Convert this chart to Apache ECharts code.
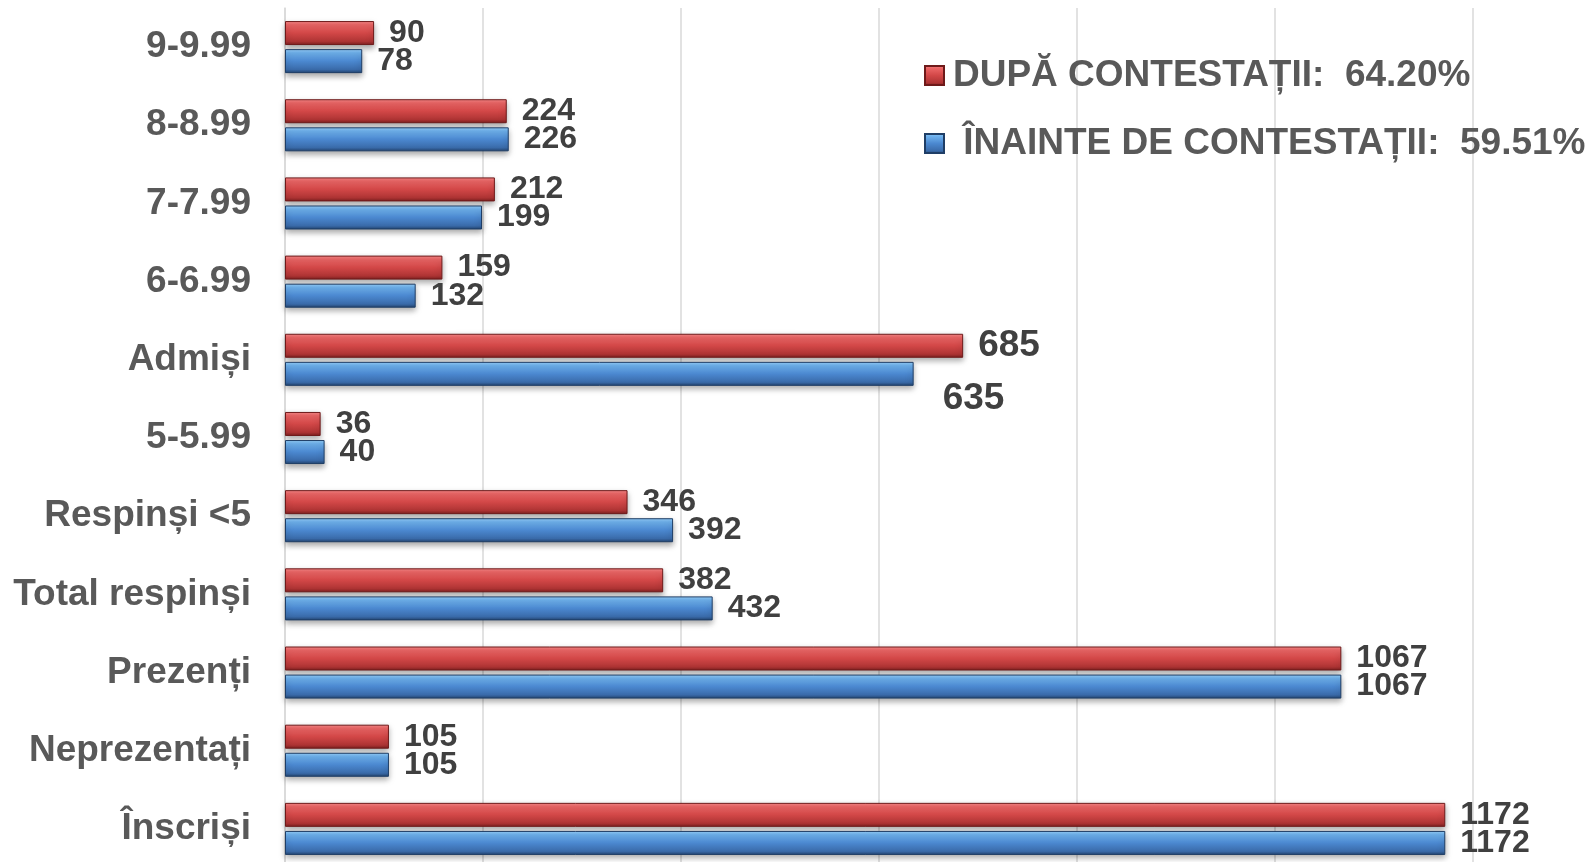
<!DOCTYPE html>
<html>
<head>
<meta charset="utf-8">
<script src="https://cdn.jsdelivr.net/npm/echarts@6/dist/echarts.min.js"></script>
<style>
    html, body { margin: 0; padding: 0; background: #fff; overflow: hidden; }
    #chart { width: 1591px; height: 900px; }
</style>
</head>
<body>
<div id="chart"></div>
<script>
// categorii, de jos in sus
const categories = ["Înscriși", "Neprezentați", "Prezenți", "Total respinși", "Respinși <5",
    "5-5.99", "Admiși", "6-6.99", "7-7.99", "8-8.99", "9-9.99"];
// valori dupa contestatii (rosu)
const dupaValues = [1172, 105, 1067, 382, 346, 36, 685, 159, 212, 224, 90];
// valori inainte de contestatii (albastru)
const inainteValues = [1172, 105, 1067, 432, 392, 40, 635, 132, 199, 226, 78];
// textele din legenda
const dupaName = "DUPĂ CONTESTAȚII:  64.20%";
const inainteName = " ÎNAINTE DE CONTESTAȚII:  59.51%";

const font = "'Liberation Sans', Arial, sans-serif";

function grad(stops) {
    return new echarts.graphic.LinearGradient(0, 0, 0, 1,
        stops.map(function (c) { return { offset: c[0], color: c[1] }; }));
}

const redColor = grad([[0, "#F88A8A"], [0.15, "#EC6666"], [0.5, "#D24747"], [0.85, "#AE3434"], [1, "#7A1E1E"]]);
const blueColor = grad([[0, "#98D0FA"], [0.15, "#6FB2EE"], [0.5, "#4B88D0"], [0.85, "#3A6BAA"], [1, "#22436D"]]);

// eticheta mai mare pentru Admiși
function makeData(values, isBlue) {
    return values.map(function (v, i) {
        if (categories[i] !== "Admiși") {
            return v;
        }
        return {
            value: v,
            label: isBlue
                ? { fontSize: 37, offset: [14, 25] }
                : { fontSize: 37 }
        };
    });
}

function barSeries(name, values, color, borderColor, isBlue) {
    return {
        name: name,
        type: "bar",
        data: makeData(values, isBlue),
        barWidth: 24,
        barGap: "17%",
        itemStyle: {
            color: color,
            borderColor: borderColor,
            borderWidth: 1,
            shadowColor: "rgba(0,0,0,0.35)",
            shadowBlur: 6,
            shadowOffsetY: 3
        },
        label: {
            show: true,
            position: "right",
            distance: 15,
            color: "#404040",
            fontFamily: font,
            fontWeight: "bold",
            fontSize: 32
        },
        animation: false
    };
}

var chart = echarts.init(document.getElementById("chart"));

chart.setOption({
    animation: false,
    grid: {
        left: 285,
        right: 118,
        top: 8,
        height: 860,
        containLabel: false
    },
    legend: {
        orient: "vertical",
        left: 919,
        top: 52,
        itemWidth: 19,
        itemHeight: 19,
        itemGap: 31,
        icon: "rect",
        data: [dupaName, inainteName],
        textStyle: {
            fontFamily: font,
            fontWeight: "bold",
            fontSize: 37,
            color: "#595959",
            padding: [0, 0, 0, 4]
        }
    },
    xAxis: {
        type: "value",
        min: 0,
        max: 1200,
        interval: 200,
        axisLabel: { show: false },
        axisLine: { show: false },
        axisTick: { show: false },
        splitLine: { lineStyle: { color: "#D9D9D9", width: 1.5 } }
    },
    yAxis: {
        type: "category",
        data: categories,
        axisTick: { show: false },
        axisLine: { show: true, lineStyle: { color: "#D9D9D9", width: 1.5 } },
        axisLabel: {
            margin: 34,
            color: "#595959",
            fontFamily: font,
            fontWeight: "bold",
            fontSize: 37
        }
    },
    // rosu primul: apare deasupra in fiecare categorie
    series: [
        barSeries(dupaName, dupaValues, redColor, "#6E1A1A", false),
        barSeries(inainteName, inainteValues, blueColor, "#1F3E66", true)
    ]
});

window.addEventListener("resize", function () {
    chart.resize();
});
</script>
</body>
</html>
